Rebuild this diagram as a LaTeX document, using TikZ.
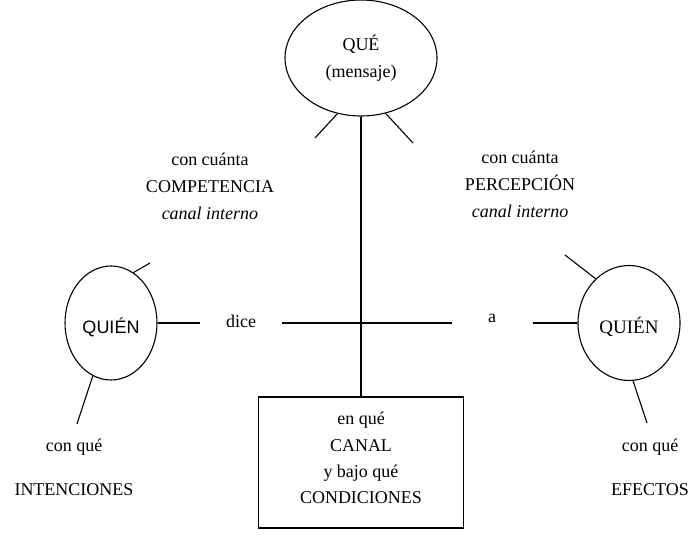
\documentclass[tikz,border=0pt]{standalone}
\usepackage{fontspec}
\setmainfont{Liberation Serif}
\newfontfamily\sansf{Liberation Sans}
\usetikzlibrary{shapes.geometric}
\begin{document}
\begin{tikzpicture}[x=1pt,y=-1pt,
  line width=1.1pt,
  oval/.style={ellipse,draw,inner sep=0pt},
  txt/.style={align=center,font=\fontsize{18}{27}\selectfont,inner sep=0pt}]
\useasboundingbox (0,0) rectangle (691,538);
% nodes
\node[oval,minimum width=152,minimum height=116,txt] (que) at (361,58) {QUÉ\\(mensaje)};
\node[oval,minimum width=92,minimum height=114] (qlft) at (111,323) {\sansf\fontsize{18}{20}\selectfont\rule{0pt}{24pt}QUIÉN};
\node[oval,minimum width=102,minimum height=115] (qrgt) at (629,323) {\fontsize{19}{20}\selectfont\rule{0pt}{24pt}QUIÉN};
\node[draw,minimum width=205,minimum height=131] (canal) at (361,462.5) {};
\node[txt,font=\fontsize{18}{26.3}\selectfont] (canaltxt) at (361,458) {en qué\\CANAL\\y bajo qué\\CONDICIONES};
% labels
\node[txt] (compl) at (210,186) {con cuánta\\COMPETENCIA\\\textit{canal interno}};
\node[txt] (percl) at (520,184) {con cuánta\\PERCEPCIÓN\\\textit{canal interno}};
\node[txt] (dice) at (241,321) {dice};
\node[txt] (alab) at (492,318) {a};
\node[txt] (intl) at (74,467) {con qué\\[17pt]INTENCIONES};
\node[txt] (efel) at (650,467) {con qué\\[17pt]EFECTOS};
% connector coordinates
\coordinate (hl) at (282,323);
\coordinate (hr) at (452,323);
\coordinate (lend) at (200,323);
\coordinate (rend) at (533,323);
\coordinate (t1) at (315,138);
\coordinate (t2) at (413,143);
\coordinate (t3) at (150,263);
\coordinate (t4) at (77,424);
\coordinate (t5) at (565,255);
\coordinate (t6) at (647,423);
% connectors
\draw (que.south) -- (canal.north);
\draw (hl) -- (hr);
\draw (qlft.east) -- (lend);
\draw (rend) -- (qrgt.west);
\draw (que.247) -- (t1);
\draw (que.294) -- (t2);
\draw (qlft.66) -- (t3);
\draw (qlft.251) -- (t4);
\draw (qrgt.127) -- (t5);
\draw (qrgt.274) -- (t6);
\end{tikzpicture}
\end{document}
